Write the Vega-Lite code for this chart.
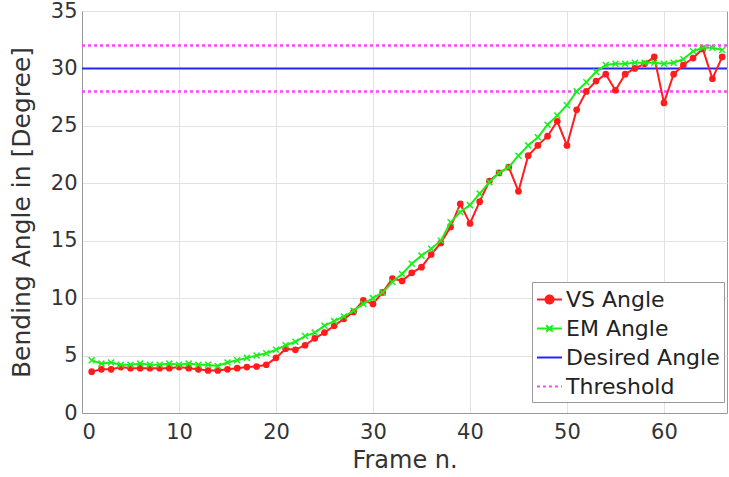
{
  "$schema": "https://vega.github.io/schema/vega-lite/v6.json",
  "width": 645,
  "height": 402,
  "autosize": {"type": "none"},
  "padding": {"left": 82, "top": 11, "right": 2, "bottom": 64},
  "background": "white",
  "config": {
    "font": "DejaVu Sans",
    "view": {"stroke": "#9a9a9a", "strokeWidth": 1},
    "axis": {
      "labelFont": "DejaVu Sans",
      "titleFont": "DejaVu Sans",
      "labelColor": "#333333",
      "titleColor": "#333333",
      "gridColor": "#e2e2e2",
      "gridWidth": 1,
      "domainColor": "#9a9a9a",
      "ticks": false,
      "titleFontWeight": "normal",
      "labelFontSize": 21,
      "titleFontSize": 24
    }
  },
  "datasets": {
    "refs": [
      {"series": "Desired Angle", "value": 30},
      {"series": "Threshold", "value": 28},
      {"series": "Threshold", "value": 32}
    ],
    "angles": [
      {"frame": 1, "series": "VS Angle", "value": 3.6},
      {"frame": 2, "series": "VS Angle", "value": 3.8},
      {"frame": 3, "series": "VS Angle", "value": 3.8},
      {"frame": 4, "series": "VS Angle", "value": 4.0},
      {"frame": 5, "series": "VS Angle", "value": 3.9},
      {"frame": 6, "series": "VS Angle", "value": 3.9},
      {"frame": 7, "series": "VS Angle", "value": 3.9},
      {"frame": 8, "series": "VS Angle", "value": 3.9},
      {"frame": 9, "series": "VS Angle", "value": 3.9},
      {"frame": 10, "series": "VS Angle", "value": 4.0},
      {"frame": 11, "series": "VS Angle", "value": 3.9},
      {"frame": 12, "series": "VS Angle", "value": 3.8},
      {"frame": 13, "series": "VS Angle", "value": 3.7},
      {"frame": 14, "series": "VS Angle", "value": 3.7},
      {"frame": 15, "series": "VS Angle", "value": 3.8},
      {"frame": 16, "series": "VS Angle", "value": 3.9},
      {"frame": 17, "series": "VS Angle", "value": 4.0},
      {"frame": 18, "series": "VS Angle", "value": 4.05},
      {"frame": 19, "series": "VS Angle", "value": 4.2},
      {"frame": 20, "series": "VS Angle", "value": 4.8},
      {"frame": 21, "series": "VS Angle", "value": 5.6},
      {"frame": 22, "series": "VS Angle", "value": 5.5},
      {"frame": 23, "series": "VS Angle", "value": 5.9},
      {"frame": 24, "series": "VS Angle", "value": 6.5},
      {"frame": 25, "series": "VS Angle", "value": 7.0},
      {"frame": 26, "series": "VS Angle", "value": 7.6},
      {"frame": 27, "series": "VS Angle", "value": 8.2},
      {"frame": 28, "series": "VS Angle", "value": 8.8},
      {"frame": 29, "series": "VS Angle", "value": 9.8},
      {"frame": 30, "series": "VS Angle", "value": 9.5},
      {"frame": 31, "series": "VS Angle", "value": 10.5},
      {"frame": 32, "series": "VS Angle", "value": 11.7},
      {"frame": 33, "series": "VS Angle", "value": 11.5},
      {"frame": 34, "series": "VS Angle", "value": 12.2},
      {"frame": 35, "series": "VS Angle", "value": 12.7},
      {"frame": 36, "series": "VS Angle", "value": 13.8},
      {"frame": 37, "series": "VS Angle", "value": 14.8},
      {"frame": 38, "series": "VS Angle", "value": 16.2},
      {"frame": 39, "series": "VS Angle", "value": 18.2},
      {"frame": 40, "series": "VS Angle", "value": 16.5},
      {"frame": 41, "series": "VS Angle", "value": 18.4},
      {"frame": 42, "series": "VS Angle", "value": 20.2},
      {"frame": 43, "series": "VS Angle", "value": 20.9},
      {"frame": 44, "series": "VS Angle", "value": 21.4},
      {"frame": 45, "series": "VS Angle", "value": 19.3},
      {"frame": 46, "series": "VS Angle", "value": 22.4},
      {"frame": 47, "series": "VS Angle", "value": 23.3},
      {"frame": 48, "series": "VS Angle", "value": 24.1},
      {"frame": 49, "series": "VS Angle", "value": 25.4},
      {"frame": 50, "series": "VS Angle", "value": 23.3},
      {"frame": 51, "series": "VS Angle", "value": 26.4},
      {"frame": 52, "series": "VS Angle", "value": 28.0},
      {"frame": 53, "series": "VS Angle", "value": 28.9},
      {"frame": 54, "series": "VS Angle", "value": 29.5},
      {"frame": 55, "series": "VS Angle", "value": 28.1},
      {"frame": 56, "series": "VS Angle", "value": 29.5},
      {"frame": 57, "series": "VS Angle", "value": 30.0},
      {"frame": 58, "series": "VS Angle", "value": 30.4},
      {"frame": 59, "series": "VS Angle", "value": 31.0},
      {"frame": 60, "series": "VS Angle", "value": 27.0},
      {"frame": 61, "series": "VS Angle", "value": 29.5},
      {"frame": 62, "series": "VS Angle", "value": 30.3},
      {"frame": 63, "series": "VS Angle", "value": 30.9},
      {"frame": 64, "series": "VS Angle", "value": 31.7},
      {"frame": 65, "series": "VS Angle", "value": 29.1},
      {"frame": 66, "series": "VS Angle", "value": 31.0},
      {"frame": 1, "series": "EM Angle", "value": 4.6},
      {"frame": 2, "series": "EM Angle", "value": 4.3},
      {"frame": 3, "series": "EM Angle", "value": 4.4},
      {"frame": 4, "series": "EM Angle", "value": 4.2},
      {"frame": 5, "series": "EM Angle", "value": 4.2},
      {"frame": 6, "series": "EM Angle", "value": 4.3},
      {"frame": 7, "series": "EM Angle", "value": 4.2},
      {"frame": 8, "series": "EM Angle", "value": 4.2},
      {"frame": 9, "series": "EM Angle", "value": 4.3},
      {"frame": 10, "series": "EM Angle", "value": 4.2},
      {"frame": 11, "series": "EM Angle", "value": 4.3},
      {"frame": 12, "series": "EM Angle", "value": 4.2},
      {"frame": 13, "series": "EM Angle", "value": 4.2},
      {"frame": 14, "series": "EM Angle", "value": 4.1},
      {"frame": 15, "series": "EM Angle", "value": 4.4},
      {"frame": 16, "series": "EM Angle", "value": 4.6},
      {"frame": 17, "series": "EM Angle", "value": 4.8},
      {"frame": 18, "series": "EM Angle", "value": 5.0},
      {"frame": 19, "series": "EM Angle", "value": 5.2},
      {"frame": 20, "series": "EM Angle", "value": 5.5},
      {"frame": 21, "series": "EM Angle", "value": 5.9},
      {"frame": 22, "series": "EM Angle", "value": 6.2},
      {"frame": 23, "series": "EM Angle", "value": 6.7},
      {"frame": 24, "series": "EM Angle", "value": 7.0},
      {"frame": 25, "series": "EM Angle", "value": 7.6},
      {"frame": 26, "series": "EM Angle", "value": 8.0},
      {"frame": 27, "series": "EM Angle", "value": 8.4},
      {"frame": 28, "series": "EM Angle", "value": 8.9},
      {"frame": 29, "series": "EM Angle", "value": 9.5},
      {"frame": 30, "series": "EM Angle", "value": 10.0},
      {"frame": 31, "series": "EM Angle", "value": 10.5},
      {"frame": 32, "series": "EM Angle", "value": 11.4},
      {"frame": 33, "series": "EM Angle", "value": 12.1},
      {"frame": 34, "series": "EM Angle", "value": 13.0},
      {"frame": 35, "series": "EM Angle", "value": 13.7},
      {"frame": 36, "series": "EM Angle", "value": 14.3},
      {"frame": 37, "series": "EM Angle", "value": 15.0},
      {"frame": 38, "series": "EM Angle", "value": 16.6},
      {"frame": 39, "series": "EM Angle", "value": 17.5},
      {"frame": 40, "series": "EM Angle", "value": 18.1},
      {"frame": 41, "series": "EM Angle", "value": 19.1},
      {"frame": 42, "series": "EM Angle", "value": 20.1},
      {"frame": 43, "series": "EM Angle", "value": 20.9},
      {"frame": 44, "series": "EM Angle", "value": 21.4},
      {"frame": 45, "series": "EM Angle", "value": 22.4},
      {"frame": 46, "series": "EM Angle", "value": 23.3},
      {"frame": 47, "series": "EM Angle", "value": 24.0},
      {"frame": 48, "series": "EM Angle", "value": 25.1},
      {"frame": 49, "series": "EM Angle", "value": 25.9},
      {"frame": 50, "series": "EM Angle", "value": 26.8},
      {"frame": 51, "series": "EM Angle", "value": 28.0},
      {"frame": 52, "series": "EM Angle", "value": 28.8},
      {"frame": 53, "series": "EM Angle", "value": 29.7},
      {"frame": 54, "series": "EM Angle", "value": 30.3},
      {"frame": 55, "series": "EM Angle", "value": 30.4},
      {"frame": 56, "series": "EM Angle", "value": 30.4},
      {"frame": 57, "series": "EM Angle", "value": 30.5},
      {"frame": 58, "series": "EM Angle", "value": 30.5},
      {"frame": 59, "series": "EM Angle", "value": 30.5},
      {"frame": 60, "series": "EM Angle", "value": 30.4},
      {"frame": 61, "series": "EM Angle", "value": 30.5},
      {"frame": 62, "series": "EM Angle", "value": 30.8},
      {"frame": 63, "series": "EM Angle", "value": 31.5},
      {"frame": 64, "series": "EM Angle", "value": 31.8},
      {"frame": 65, "series": "EM Angle", "value": 31.8},
      {"frame": 66, "series": "EM Angle", "value": 31.6}
    ]
  },
  "encoding": {
    "color": {
      "field": "series",
      "type": "nominal",
      "scale": {
        "domain": ["VS Angle", "EM Angle", "Desired Angle", "Threshold"],
        "range": ["#ff1c1c", "#1cee1c", "#2424ff", "#ff44ff"]
      },
      "legend": {
        "title": null,
        "orient": "none",
        "legendX": 450,
        "legendY": 271,
        "direction": "vertical",
        "fillColor": "white",
        "strokeColor": "#9a9a9a",
        "padding": 4,
        "labelFont": "DejaVu Sans",
        "labelFontSize": 22,
        "labelColor": "#222222",
        "labelOffset": 3,
        "rowPadding": 4,
        "symbolSize": 625,
        "symbolStrokeWidth": 2,
        "encode": {
          "symbols": {
            "update": {
              "shape": {"signal": "datum.value === 'VS Angle' ? 'M-1,0H1M0.32,0A0.32,0.32 0 1,1 -0.32,0A0.32,0.32 0 1,1 0.32,0Z' : datum.value === 'EM Angle' ? 'M-1,0H1M-0.26,-0.26L0.26,0.26M-0.26,0.26L0.26,-0.26' : datum.value === 'Desired Angle' ? 'M-1,0H1' : 'M-1,0H-0.76M-0.52,0H-0.28M-0.04,0H0.2M0.44,0H0.68M0.92,0H1'"},
              "stroke": {"scale": "color", "field": "value"},
              "fill": {"scale": "color", "field": "value"},
              "strokeWidth": {"value": 2},
              "strokeDash": {"value": [1, 0]},
              "opacity": {"value": 1}
            }
          }
        }
      }
    }
  },
  "layer": [
    {
      "data": {"name": "refs"},
      "transform": [{"filter": "datum.series === 'Threshold'"}],
      "mark": {"type": "rule", "strokeDash": [3, 3], "strokeWidth": 2.5},
      "encoding": {
        "y": {
          "field": "value",
          "type": "quantitative",
          "scale": {"domain": [0, 35], "nice": false},
          "axis": {
            "title": "Bending Angle in [Degree]",
            "titleFontSize": 25,
            "values": [0, 5, 10, 15, 20, 25, 30, 35],
            "labelPadding": 5,
            "titlePadding": 16
          }
        }
      }
    },
    {
      "data": {"name": "refs"},
      "transform": [{"filter": "datum.series === 'Desired Angle'"}],
      "mark": {"type": "rule", "strokeWidth": 2},
      "encoding": {
        "y": {"field": "value", "type": "quantitative"}
      }
    },
    {
      "data": {"name": "angles"},
      "transform": [{"filter": "datum.series === 'VS Angle'"}],
      "mark": {"type": "line", "strokeWidth": 2, "clip": true},
      "encoding": {
        "x": {
          "field": "frame",
          "type": "quantitative",
          "scale": {"domain": [0, 66.5], "nice": false},
          "axis": {
            "title": "Frame n.",
            "values": [0, 10, 20, 30, 40, 50, 60],
            "labelPadding": 8,
            "titlePadding": 6
          }
        },
        "y": {"field": "value", "type": "quantitative"}
      }
    },
    {
      "data": {"name": "angles"},
      "transform": [{"filter": "datum.series === 'VS Angle'"}],
      "mark": {"type": "point", "shape": "circle", "filled": true, "size": 45, "opacity": 1, "clip": true},
      "encoding": {
        "x": {"field": "frame", "type": "quantitative"},
        "y": {"field": "value", "type": "quantitative"}
      }
    },
    {
      "data": {"name": "angles"},
      "transform": [{"filter": "datum.series === 'EM Angle'"}],
      "mark": {"type": "line", "strokeWidth": 2, "clip": true},
      "encoding": {
        "x": {"field": "frame", "type": "quantitative"},
        "y": {"field": "value", "type": "quantitative"}
      }
    },
    {
      "data": {"name": "angles"},
      "transform": [{"filter": "datum.series === 'EM Angle'"}],
      "mark": {"type": "point", "shape": "M-1,-1L1,1M-1,1L1,-1", "filled": false, "size": 36, "strokeWidth": 1.5, "opacity": 1, "clip": true},
      "encoding": {
        "x": {"field": "frame", "type": "quantitative"},
        "y": {"field": "value", "type": "quantitative"}
      }
    }
  ]
}
